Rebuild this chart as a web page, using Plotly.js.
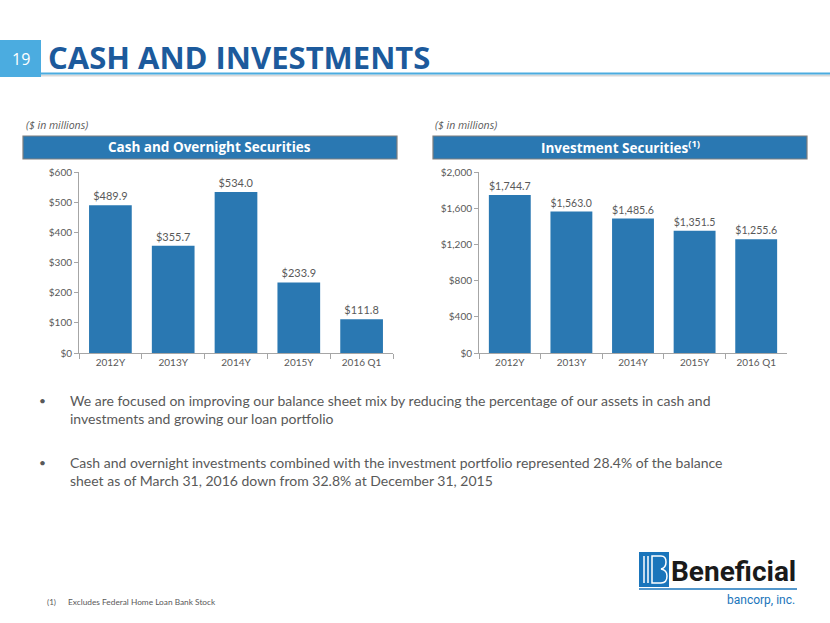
<!DOCTYPE html>
<html>
<head>
<meta charset="utf-8">
<script src="https://cdn.plot.ly/plotly-3.0.1.min.js"></script>
<style>html,body{margin:0;padding:0;background:#fff}#chart{width:830px;height:623px}</style>
</head>
<body>
<div id="chart"></div>
<script>
// ---- data ----
const categories = ["2012Y", "2013Y", "2014Y", "2015Y", "2016 Q1"];
const cashValues = [489.9, 355.7, 534.0, 233.9, 111.8];
const investValues = [1744.7, 1563.0, 1485.6, 1351.5, 1255.6];
const leftTitle = "Cash and Overnight Securities";
const rightTitle = "Investment Securities<sup>(1)</sup>";
const unitsNote = "($ in millions)";
const pageTitle = "CASH AND INVESTMENTS";
const pageNumber = "19";
const bullets = [
  "We are focused on improving our balance sheet mix by reducing the percentage of our assets in cash and<br>investments and growing our loan portfolio",
  "Cash and overnight investments combined with the investment portfolio represented 28.4% of the balance<br>sheet as of March 31, 2016 down from 32.8% at December 31, 2015"
];
const footnote = "Excludes Federal Home Loan Bank Stock";

// ---- helpers (pixel -> paper) ----
const W = 830, H = 623;
const px = x => x / W;
const py = y => 1 - y / H;

const barColor = "#2a78b2";
const gray = "#595959";
const axisColor = "#a6a6a6";
const bodyFont = "Lato, 'Open Sans', sans-serif";

const traces = [
  {type: "bar", x: categories, y: cashValues, xaxis: "x", yaxis: "y",
   marker: {color: barColor}, texttemplate: "$%{y:,.1f}", textposition: "outside",
   cliponaxis: false, textfont: {family: bodyFont, size: 11, color: gray}, hoverinfo: "none"},
  {type: "bar", x: categories, y: investValues, xaxis: "x2", yaxis: "y2",
   marker: {color: barColor}, texttemplate: "$%{y:,.1f}", textposition: "outside",
   cliponaxis: false, textfont: {family: bodyFont, size: 11, color: gray}, hoverinfo: "none"}
];

const xCommon = {type: "category", showline: true, linecolor: axisColor, linewidth: 1,
  ticks: "outside", tickson: "boundaries", ticklen: 5, tickcolor: axisColor,
  tickfont: {family: bodyFont, size: 10, color: gray}, showgrid: false, fixedrange: true};
const yCommon = {showline: true, linecolor: axisColor, linewidth: 1, ticks: "outside",
  ticklen: 4, tickcolor: axisColor, tickprefix: "$", tickformat: ",",
  tickfont: {family: bodyFont, size: 10, color: gray}, showgrid: false, zeroline: false, fixedrange: true};

const layout = {
  width: W, height: H, margin: {l: 0, r: 0, t: 0, b: 0},
  paper_bgcolor: "#ffffff", plot_bgcolor: "#ffffff", showlegend: false,
  bargap: 0.32,
  xaxis: Object.assign({}, xCommon, {domain: [px(79), px(393)], anchor: "y"}),
  yaxis: Object.assign({}, yCommon, {domain: [py(353), py(172)], anchor: "x", range: [0, 600], dtick: 100}),
  xaxis2: Object.assign({}, xCommon, {domain: [px(479), px(787)], anchor: "y2"}),
  yaxis2: Object.assign({}, yCommon, {domain: [py(353), py(172)], anchor: "x2", range: [0, 2000], dtick: 400}),
  shapes: [
    // title underline shadow + line
    {type: "line", xref: "paper", yref: "paper", x0: px(41), x1: 1, y0: py(75.5), y1: py(75.5), line: {color: "#d9d9d9", width: 2}},
    {type: "line", xref: "paper", yref: "paper", x0: px(41), x1: 1, y0: py(73.5), y1: py(73.5), line: {color: "#4bace0", width: 2}},
    // page number box
    {type: "rect", xref: "paper", yref: "paper", x0: 0, x1: px(41), y0: py(77), y1: py(40), fillcolor: "#4bace0", line: {width: 0}},
    // chart header boxes
    {type: "rect", xref: "paper", yref: "paper", x0: px(23), x1: px(397), y0: py(159), y1: py(136), fillcolor: barColor, line: {color: "#7f7f7f", width: 1.2}},
    {type: "rect", xref: "paper", yref: "paper", x0: px(433), x1: px(807), y0: py(159), y1: py(136), fillcolor: barColor, line: {color: "#7f7f7f", width: 1.2}},
    // logo emblem
    {type: "rect", xref: "paper", yref: "paper", x0: px(639), x1: px(669), y0: py(587), y1: py(552), fillcolor: "#1a75bb", line: {width: 0}},
    {type: "line", xref: "paper", yref: "paper", x0: px(644), x1: px(644), y0: py(583), y1: py(556), line: {color: "#ffffff", width: 1.5}},
    {type: "line", xref: "paper", yref: "paper", x0: px(648), x1: px(648), y0: py(583), y1: py(556), line: {color: "#ffffff", width: 1.5}},
    {type: "path", xref: "paper", yref: "paper",
     path: `M ${px(652)} ${py(556)} L ${px(661)} ${py(556)} Q ${px(666)} ${py(556)} ${px(666)} ${py(562)} Q ${px(666)} ${py(568)} ${px(661)} ${py(569)} Q ${px(667)} ${py(570)} ${px(667)} ${py(576)} Q ${px(667)} ${py(583)} ${px(661)} ${py(583)} L ${px(652)} ${py(583)} Z`,
     fillcolor: "rgba(0,0,0,0)", line: {color: "#ffffff", width: 1.5}},
    {type: "line", xref: "paper", yref: "paper", x0: px(639), x1: px(797), y0: py(589), y1: py(589), line: {color: "#1a75bb", width: 1.5}}
  ],
  annotations: [
    {xref: "paper", yref: "paper", x: px(20.5), y: py(58.5), text: pageNumber, showarrow: false, xanchor: "center", yanchor: "middle",
     font: {family: "'Open Sans', sans-serif", size: 16, color: "#ffffff"}},
    {xref: "paper", yref: "paper", x: px(46), y: py(57), text: "<b>" + pageTitle + "</b>", showarrow: false, xanchor: "left", yanchor: "middle",
     font: {family: "'Open Sans', sans-serif", size: 31, color: "#1c5a9c"}},
    {xref: "paper", yref: "paper", x: px(24), y: py(125), text: "<i>" + unitsNote + "</i>", showarrow: false, xanchor: "left", yanchor: "middle",
     font: {family: "'Open Sans', sans-serif", size: 10.5, color: gray}},
    {xref: "paper", yref: "paper", x: px(433), y: py(125), text: "<i>" + unitsNote + "</i>", showarrow: false, xanchor: "left", yanchor: "middle",
     font: {family: "'Open Sans', sans-serif", size: 10.5, color: gray}},
    {xref: "paper", yref: "paper", x: px(210), y: py(147.5), text: "<b>" + leftTitle + "</b>", showarrow: false, xanchor: "center", yanchor: "middle",
     font: {family: "'Open Sans', sans-serif", size: 13.5, color: "#ffffff"}},
    {xref: "paper", yref: "paper", x: px(620), y: py(147.5), text: "<b>" + rightTitle + "</b>", showarrow: false, xanchor: "center", yanchor: "middle",
     font: {family: "'Open Sans', sans-serif", size: 13.5, color: "#ffffff"}},
    {xref: "paper", yref: "paper", x: px(37), y: py(400), text: "•", showarrow: false, xanchor: "left", yanchor: "middle",
     font: {family: bodyFont, size: 12, color: gray}},
    {xref: "paper", yref: "paper", x: px(68), y: py(409), text: bullets[0], showarrow: false, xanchor: "left", yanchor: "middle", align: "left",
     font: {family: bodyFont, size: 14, color: gray}},
    {xref: "paper", yref: "paper", x: px(37), y: py(462), text: "•", showarrow: false, xanchor: "left", yanchor: "middle",
     font: {family: bodyFont, size: 12, color: gray}},
    {xref: "paper", yref: "paper", x: px(68), y: py(471), text: bullets[1], showarrow: false, xanchor: "left", yanchor: "middle", align: "left",
     font: {family: bodyFont, size: 14, color: gray}},
    {xref: "paper", yref: "paper", x: px(45), y: py(602), text: "(1)", showarrow: false, xanchor: "left", yanchor: "middle",
     font: {family: bodyFont, size: 8, color: gray}},
    {xref: "paper", yref: "paper", x: px(66), y: py(602), text: footnote, showarrow: false, xanchor: "left", yanchor: "middle",
     font: {family: bodyFont, size: 8.3, color: gray}},
    {xref: "paper", yref: "paper", x: px(733), y: py(571), text: "<b>Beneficial</b>", showarrow: false, xanchor: "center", yanchor: "middle",
     font: {family: "Roboto, 'DejaVu Sans', sans-serif", size: 28, color: "#1a1a1a"}},
    {xref: "paper", yref: "paper", x: px(797), y: py(600), text: "bancorp, inc.", showarrow: false, xanchor: "right", yanchor: "middle",
     font: {family: "Roboto, sans-serif", size: 12, color: "#1a75bb"}}
  ]
};

Plotly.newPlot("chart", traces, layout, {staticPlot: true, displayModeBar: false});
</script>
</body>
</html>
